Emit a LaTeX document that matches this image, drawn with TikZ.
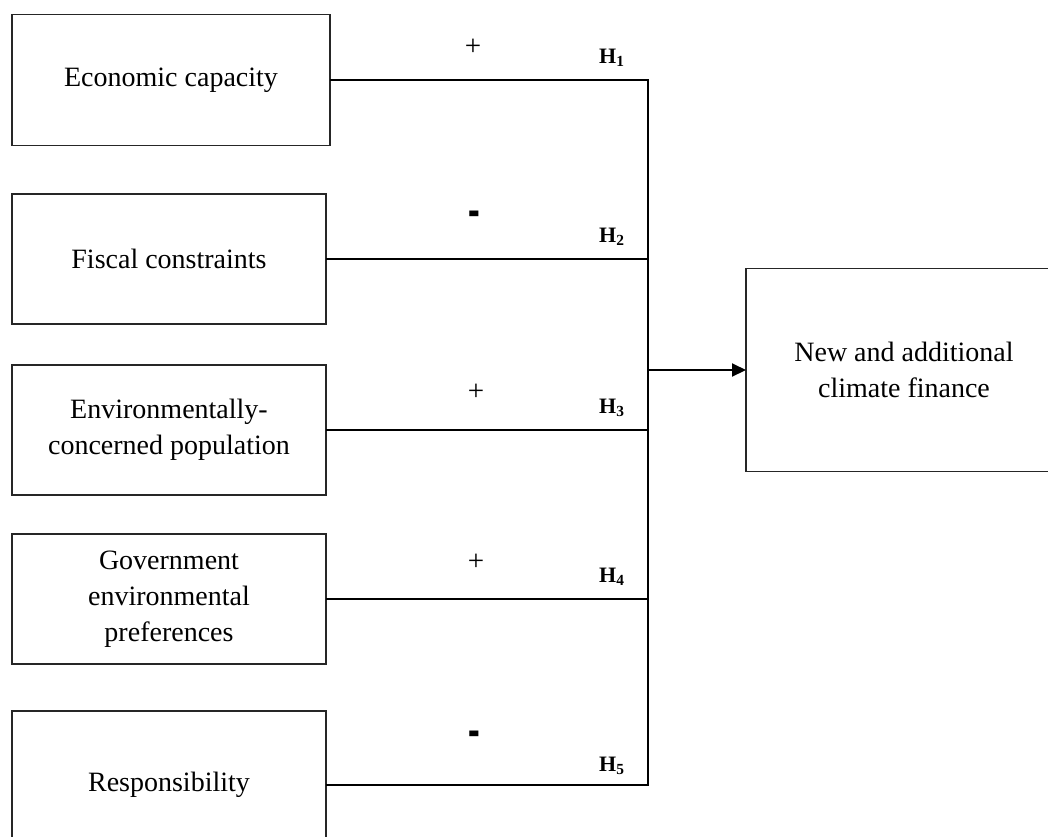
\documentclass[tikz,border=0pt]{standalone}
\usepackage{fontspec}
\setmainfont{Liberation Serif}
\usetikzlibrary{arrows.meta}
\begin{document}
\begin{tikzpicture}[x=1pt,y=-1pt,
  box/.style={draw=black!85, line width=1.3pt, inner sep=0pt, outer sep=0pt, align=center,
    font=\fontsize{28}{36}\selectfont},
  conn/.style={draw=black, line width=1.3pt},
  sign/.style={inner sep=0pt, font=\fontsize{29}{34}\selectfont},
  minus/.style={inner sep=0pt, font=\fontsize{35}{36}\selectfont\bfseries},
  hyp/.style={inner sep=0pt, anchor=base west, font=\fontsize{22}{26}\selectfont\bfseries}]
\useasboundingbox (0,0) rectangle (1048,836);
\clip (0,0) rectangle (1048,836);

% source boxes
\node[box, minimum width=318pt, minimum height=131pt] (b1) at (171,80) {Economic capacity};
\node[box, minimum width=314pt, minimum height=130pt] (b2) at (169,259) {Fiscal constraints};
\node[box, minimum width=314pt, minimum height=130pt] (b3) at (169,430) {Environmentally-\\concerned population};
\node[box, minimum width=314pt, minimum height=130pt] (b4) at (169,599) {Government\\environmental\\preferences};
\node[box, minimum width=314pt, minimum height=148pt] (b5) at (169,785) {Responsibility};

% target box
\node[box, minimum width=316pt, minimum height=203pt] (t) at (904,370) {New and additional\\climate finance};

% junction points
\coordinate (j1) at (648,80);
\coordinate (j2) at (648,259);
\coordinate (j3) at (648,430);
\coordinate (j4) at (648,599);
\coordinate (j5) at (648,785);
\coordinate (jm) at (648,370);

% connectors
\draw[conn] (b1.east) -- (j1);
\draw[conn] (b2.east) -- (j2);
\draw[conn] (b3.east) -- (j3);
\draw[conn] (b4.east) -- (j4);
\draw[conn] (b5.east) -- (j5);
\draw[conn, line cap=rect] (j1) -- (j5);
\draw[conn, line width=2pt, -{Triangle[length=14pt,width=13pt]}] (jm) -- (t.west);

% signs
\node[sign] (s1) at (473,47) {+};
\node[minus] (s2) at (474,220) {\scalebox{1}[1.9]{-}};
\node[sign] (s3) at (476,392) {+};
\node[sign] (s4) at (476,562) {+};
\node[minus] (s5) at (474,740) {\scalebox{1}[1.9]{-}};

% hypothesis labels
\node[hyp] (h1) at (599,63) {H\textsubscript{1}};
\node[hyp] (h2) at (599,242) {H\textsubscript{2}};
\node[hyp] (h3) at (599,413) {H\textsubscript{3}};
\node[hyp] (h4) at (599,582) {H\textsubscript{4}};
\node[hyp] (h5) at (599,771) {H\textsubscript{5}};
\end{tikzpicture}
\end{document}
